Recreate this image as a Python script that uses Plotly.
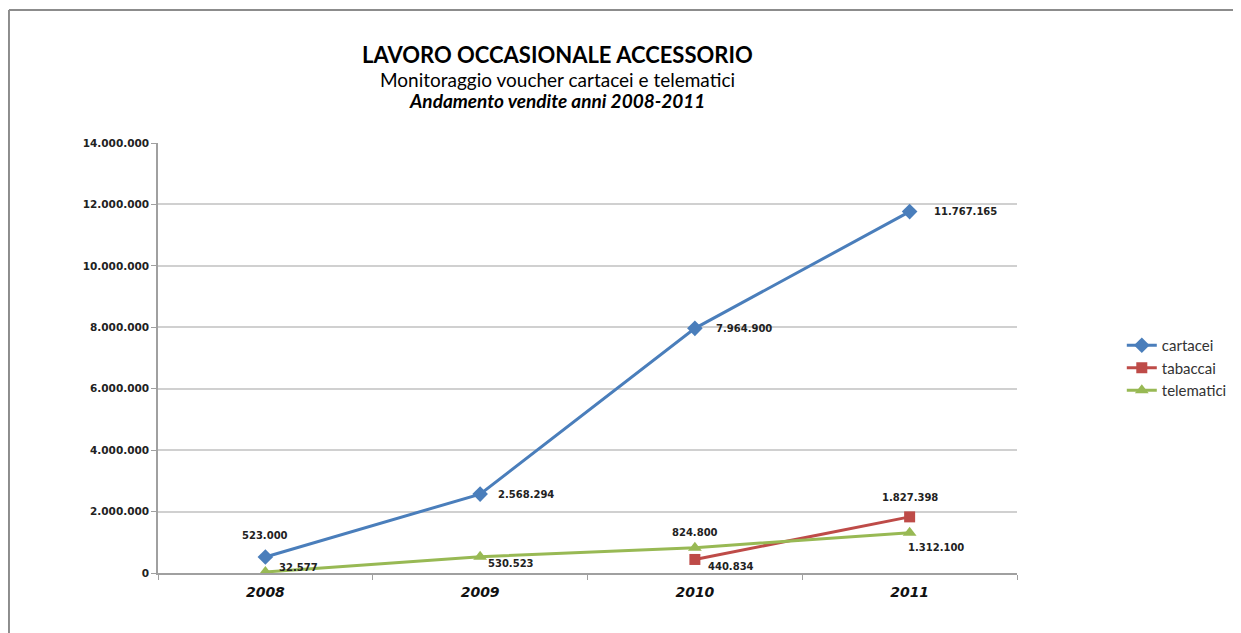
import plotly.graph_objects as go

years = ["2008", "2009", "2010", "2011"]
cartacei = [523000, 2568294, 7964900, 11767165]
tabaccai = [None, None, 440834, 1827398]
telematici = [32577, 530523, 824800, 1312100]
y_ticks = [0, 2000000, 4000000, 6000000, 8000000, 10000000, 12000000, 14000000]

blue = "#4A7EBB"
red = "#BE4B48"
green = "#98B954"

def fmt(v):
    return f"{v:,}".replace(",", ".")

fig = go.Figure()
fig.add_trace(go.Scatter(x=years, y=cartacei, name="cartacei", mode="lines+markers",
                         line=dict(color=blue, width=3),
                         marker=dict(symbol="diamond", size=12, color=blue)))
fig.add_trace(go.Scatter(x=years, y=tabaccai, name="tabaccai", mode="lines+markers",
                         line=dict(color=red, width=3),
                         marker=dict(symbol="square", size=11, color=red)))
fig.add_trace(go.Scatter(x=years, y=telematici, name="telematici", mode="lines+markers",
                         line=dict(color=green, width=3),
                         marker=dict(symbol="triangle-up", size=12, color=green)))

# label offsets (xanchor, xshift, yshift) per series/point
lab_font = dict(family="DejaVu Sans", size=10, color="#222222")
offsets = {
    "cartacei": [("center", 0, 21), ("left", 16, 0), ("left", 19, 0), ("left", 22, 0)],
    "tabaccai": [None, None, ("left", 11, -7), ("center", 0, 19)],
    "telematici": [("left", 12, 5), ("left", 6, -7), ("center", 0, 15), ("left", -4, -15)],
}
series = {"cartacei": cartacei, "tabaccai": tabaccai, "telematici": telematici}
annotations = []
for name, vals in series.items():
    for i, v in enumerate(vals):
        if v is None:
            continue
        xa, xs, ys = offsets[name][i]
        annotations.append(dict(x=i, y=v, xref="x", yref="y", text="<b>" + fmt(v) + "</b>",
                                showarrow=False, xanchor=xa, yanchor="middle",
                                xshift=xs, yshift=ys, font=lab_font))

annotations += [
    dict(x=0.4645, y=1.2047, xref="paper", yref="paper", text="<b>LAVORO OCCASIONALE ACCESSORIO</b>",
         showarrow=False, xanchor="center", yanchor="middle",
         font=dict(family="Lato", size=22, color="#000000")),
    dict(x=0.4645, y=1.1488, xref="paper", yref="paper", text="Monitoraggio voucher cartacei e telematici",
         showarrow=False, xanchor="center", yanchor="middle",
         font=dict(family="Lato", size=19, color="#000000")),
    dict(x=0.4645, y=1.0977, xref="paper", yref="paper", text="<b><i>Andamento vendite anni 2008-2011</i></b>",
         showarrow=False, xanchor="center", yanchor="middle",
         font=dict(family="Lato", size=19, color="#000000")),
]

frame = "#8C8C8C"
shapes = [
    dict(type="line", xref="paper", yref="paper", x0=-0.1735, x1=1.35, y0=1.3093, y1=1.3093,
         line=dict(color=frame, width=2)),
    dict(type="line", xref="paper", yref="paper", x0=-0.1735, x1=-0.1735, y0=1.3093, y1=-0.3,
         line=dict(color=frame, width=2)),
]

fig.update_layout(
    width=1233, height=625,
    margin=dict(l=150, r=224, t=135, b=60, autoexpand=False),
    paper_bgcolor="white", plot_bgcolor="white",
    separators=",.",
    showlegend=True,
    legend=dict(x=1.122, y=0.4767, xanchor="left", yanchor="middle",
                font=dict(family="Lato", size=15, color="#333333"),
                tracegroupgap=0, itemwidth=30,
                bgcolor="rgba(0,0,0,0)"),
    annotations=annotations,
    shapes=shapes,
    xaxis=dict(type="category", range=[-0.5, 3.5], tickson="boundaries",
               ticks="outside", ticklen=5, tickcolor="#A0A0A0",
               showline=True, linecolor="#A0A0A0", linewidth=1.5,
               showgrid=False, zeroline=False, ticklabelstandoff=5,
               tickfont=dict(family="DejaVu Sans", size=14, color="#111111",
                             weight="bold", style="italic")),
    yaxis=dict(range=[0, 14000000], tickvals=y_ticks, tickformat=",d",
               ticks="outside", ticklen=5, tickcolor="#A0A0A0",
               showline=True, linecolor="#A0A0A0", linewidth=1.5,
               showgrid=True, gridcolor="#D0D0D0", gridwidth=1.5, zeroline=False,
               tickfont=dict(family="DejaVu Sans", size=10.5, color="#222222", weight="bold")),
)

fig.write_html("out.html")
